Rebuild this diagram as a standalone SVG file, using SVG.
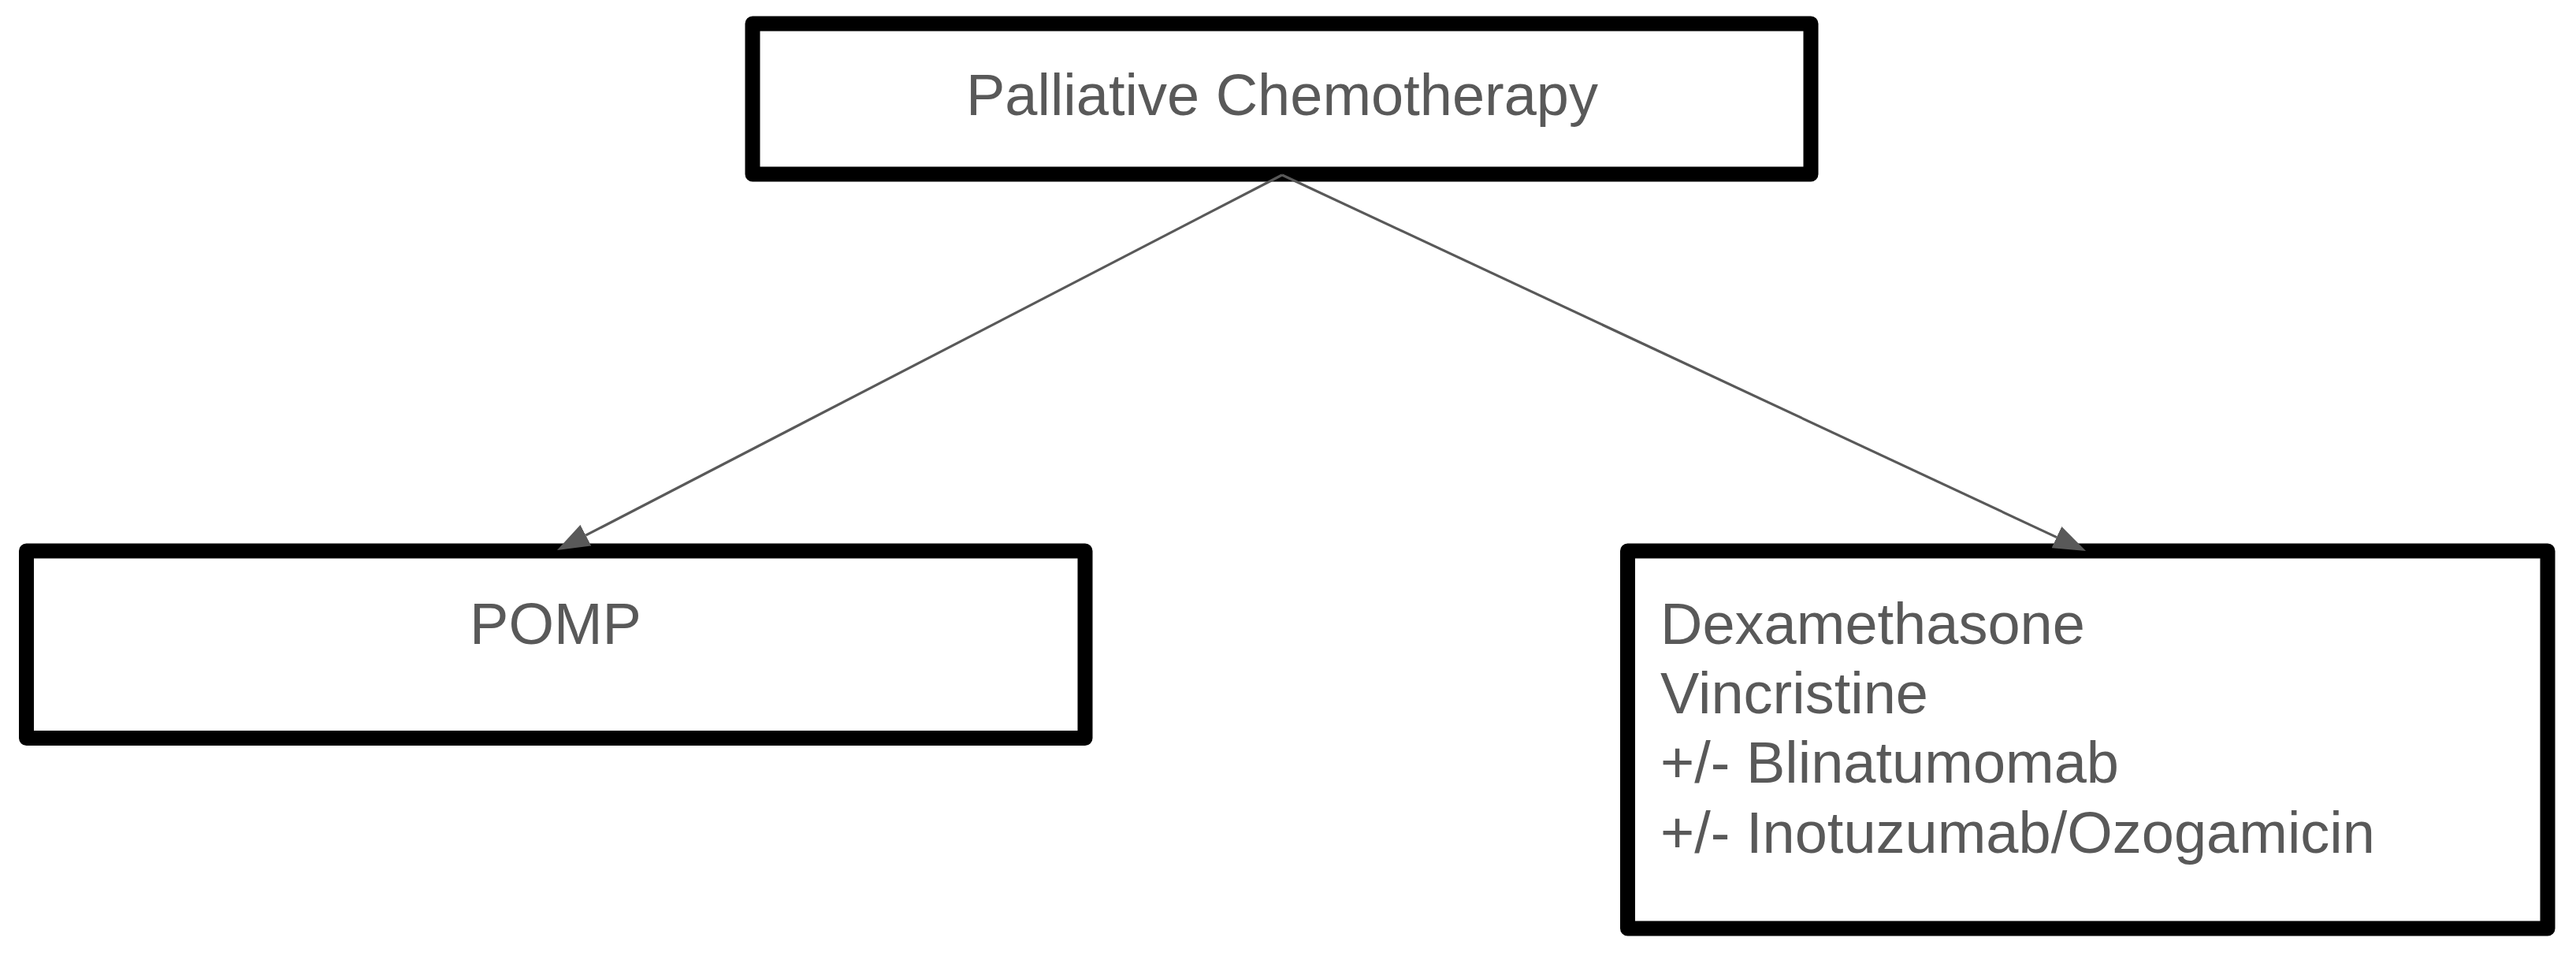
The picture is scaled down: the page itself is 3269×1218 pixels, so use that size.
<svg xmlns="http://www.w3.org/2000/svg" width="3269" height="1218" viewBox="0 0 3269 1218">
  <style>
    .box { fill: #ffffff; stroke: #000000; stroke-width: 19; stroke-linejoin: round; }
    .label { font-family: "Liberation Sans", Arial, sans-serif; font-size: 74px; fill: #595959; }
    .conn { stroke: #595959; stroke-width: 3.2; fill: none; }
  </style>
  <defs>
    <marker id="arrow" markerUnits="userSpaceOnUse" markerWidth="42" markerHeight="30" refX="0" refY="15" orient="auto">
      <path d="M0,0 L41,15 L0,30 z" fill="#595959"/>
    </marker>
  </defs>
  <rect x="0" y="0" width="3269" height="1218" fill="#ffffff"/>
  <g id="node-palliative">
    <rect class="box" x="955" y="30" width="1343" height="191"/>
    <text class="label" x="1627" y="146" text-anchor="middle">Palliative Chemotherapy</text>
  </g>
  <g id="node-pomp">
    <rect class="box" x="33.5" y="699" width="1343.5" height="237.5"/>
    <text class="label" x="705" y="817" text-anchor="middle">POMP</text>
  </g>
  <g id="node-dexa">
    <rect class="box" x="2065.5" y="699" width="1167.5" height="479"/>
    <text class="label" x="2107" y="817">Dexamethasone</text>
    <text class="label" x="2107" y="905">Vincristine</text>
    <text class="label" x="2107" y="993">+/- Blinatumomab</text>
    <text class="label" x="2107" y="1082">+/- Inotuzumab/Ozogamicin</text>
  </g>
  <g id="connectors">
    <line class="conn" x1="1627" y1="222" x2="743.4" y2="679.2" marker-end="url(#arrow)"/>
    <line class="conn" x1="1627" y1="222" x2="2609.9" y2="681.6" marker-end="url(#arrow)"/>
  </g>
</svg>
